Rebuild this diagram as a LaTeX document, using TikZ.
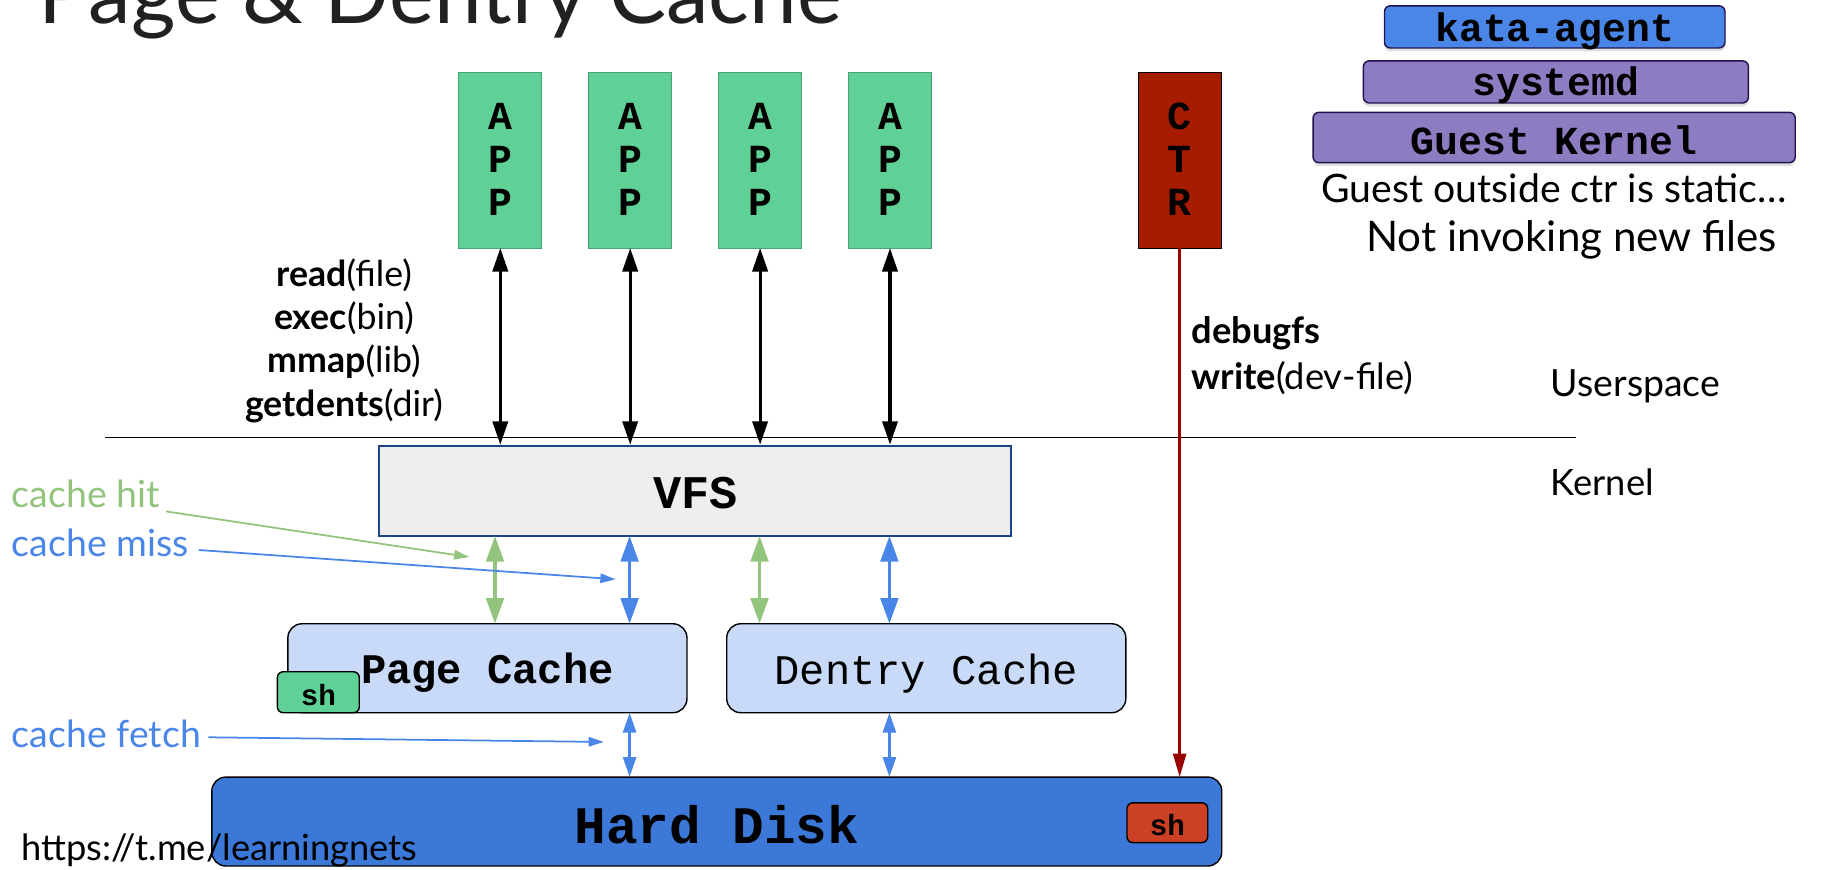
\documentclass[tikz,border=0pt]{standalone}
\usepackage{fontspec}
\setmainfont{Lato}
\setmonofont{Liberation Mono}
\usetikzlibrary{arrows.meta,shadows}
\definecolor{appgreen}{HTML}{5FD196}
\definecolor{appborder}{HTML}{46A472}
\definecolor{ctrred}{HTML}{A61C00}
\definecolor{katablue}{HTML}{4A86E8}
\definecolor{navy}{HTML}{20124D}
\definecolor{purp}{HTML}{8E7CC3}
\definecolor{vfsfill}{HTML}{EEEEEE}
\definecolor{vfsborder}{HTML}{1C4587}
\definecolor{cachefill}{HTML}{C9DAF8}
\definecolor{diskblue}{HTML}{3C78D8}
\definecolor{shred}{HTML}{CC4125}
\definecolor{hitgreen}{HTML}{93C47D}
\definecolor{missblue}{HTML}{4A86E8}
\definecolor{darkred}{HTML}{990000}
\definecolor{titlegray}{HTML}{212121}
\newcommand{\lowered}[2]{\raisebox{-#1}[\height][\depth]{#2}}
\newcommand{\vstack}[3]{\lowered{3pt}{\begin{tabular}{@{}c@{}}#1\\#2\\#3\end{tabular}}}
\tikzset{
  fsz/.style={font=\fontsize{#1}{#1}\selectfont},
  box/.style={inner sep=0pt, outer sep=0pt, align=center},
  appbox/.style={box, draw=appborder, line width=1pt, fill=appgreen,
    minimum width=71pt, minimum height=150pt,
    font=\fontsize{34}{37}\selectfont\ttfamily\bfseries},
  stackbox/.style={box, draw=navy, line width=1.2pt, rounded corners=5pt,
    minimum height=36pt, font=\fontsize{34}{34}\selectfont\ttfamily\bfseries,
    drop shadow={opacity=0.25, shadow xshift=0pt, shadow yshift=-3pt}},
  cachebox/.style={box, draw=black, line width=1.2pt, fill=cachefill, rounded corners=12pt,
    minimum width=341pt, minimum height=76pt},
  shbox/.style={box, draw=black, line width=1.2pt, rounded corners=5pt,
    font=\fontsize{25}{25}\selectfont\ttfamily\bfseries},
  syscall/.style={{Triangle[width=13pt,length=20pt]}-{Triangle[width=13pt,length=20pt]}, line width=2.6pt, black},
  hitarrow/.style={{Triangle[width=15pt,length=22pt]}-{Triangle[width=15pt,length=22pt]}, line width=3pt, hitgreen},
  missarrow/.style={{Triangle[width=15pt,length=22pt]}-{Triangle[width=15pt,length=22pt]}, line width=3pt, missblue},
  fetcharrow/.style={{Triangle[width=11pt,length=17pt]}-{Triangle[width=11pt,length=17pt]}, line width=2.5pt, missblue},
  pointer/.style={-{Triangle[width=8pt,length=13pt]}, line width=1.5pt},
  label/.style={inner sep=0pt, fsz=32}
}
\begin{document}
\begin{tikzpicture}[x=1pt,y=-1pt]
\useasboundingbox (0,0) rectangle (1568,743);

% title
\node[anchor=base west, inner sep=0pt, text=titlegray, fsz=73] (title) at (33,20) {Page \& Dentry Cache};

% apps
\node[appbox] (app1) at (427.5,137) {\vstack{A}{P}{P}};
\node[appbox] (app2) at (538.5,137) {\vstack{A}{P}{P}};
\node[appbox] (app3) at (649.5,137) {\vstack{A}{P}{P}};
\node[appbox] (app4) at (760.5,137) {\vstack{A}{P}{P}};
\node[appbox, draw=black, fill=ctrred] (ctr) at (1008,137) {\vstack{C}{T}{R}};

% top-right stack
\node[stackbox, fill=katablue, minimum width=291pt] (kata) at (1328.5,23) {\lowered{4pt}{kata-agent}};
\node[stackbox, fill=purp, minimum width=329pt] (systemd) at (1329.5,70) {\lowered{3pt}{systemd}};
\node[stackbox, fill=purp, minimum width=412pt, minimum height=43pt] (gk) at (1328,117.5) {\lowered{2pt}{Guest Kernel}};
\node[label, fsz=33.5] (static) at (1328,161) {Guest outside ctr is static…};
\node[label, fsz=36] (notinv) at (1343,205) {Not invoking new files};

% kernel / user line
\coordinate (lineL) at (90,374);
\coordinate (lineR) at (1347,374);
\draw[line width=1.3pt] (lineL) -- (lineR);

% syscall arrows
\foreach \n in {1,2,3,4} {
  \coordinate (e\n) at ([yshift=-6pt]app\n.south |- lineL);
  \draw[syscall] (app\n.south) -- (e\n);
}

\node[label, align=center, font=\fontsize{30.5}{37}\selectfont] (calls) at (294,291)
  {\textbf{read}(file)\\\textbf{exec}(bin)\\\textbf{mmap}(lib)\\\textbf{getdents}(dir)};

\node[label, anchor=west, align=left, font=\fontsize{31}{39}\selectfont] (dbg) at (1018,304)
  {\textbf{debugfs}\\\textbf{write}(dev-file)};

\node[label, anchor=west, fsz=32] (user) at (1325,330) {Userspace};
\node[label, anchor=west, fsz=31] (kern) at (1325,412) {Kernel};

% VFS
\node[box, draw=vfsborder, line width=1.2pt, fill=vfsfill, minimum width=540pt, minimum height=77pt,
  font=\fontsize{40}{40}\selectfont\ttfamily\bfseries] (vfs) at (594,419.5) {\lowered{2pt}{VFS}};

% caches
\node[cachebox, font=\fontsize{36}{36}\selectfont\ttfamily\bfseries] (pc) at (416.5,571) {\lowered{4pt}{Page Cache}};
\node[cachebox, font=\fontsize{36}{36}\selectfont\ttfamily] (dc) at (791.5,571) {\lowered{5pt}{Dentry Cache}};
\node[shbox, fill=appgreen, minimum width=70pt, minimum height=35pt] (sh1) at (272,591.5) {\lowered{2pt}{sh}};

% disk
\node[box, draw=black, line width=1.2pt, fill=diskblue, rounded corners=12pt,
  minimum width=863pt, minimum height=76pt, font=\fontsize{45}{45}\selectfont\ttfamily\bfseries] (disk) at (612.5,702) {\lowered{3pt}{Hard Disk}};
\node[shbox, fill=shred, minimum width=69pt, minimum height=34pt] (sh2) at (997.5,703) {\lowered{2pt}{sh}};

% vfs <-> caches
\coordinate (c1) at (423,0);
\coordinate (c2) at (538,0);
\coordinate (c3) at (649,0);
\coordinate (c4) at (760,0);
\draw[hitarrow] (vfs.south -| c1) -- (pc.north -| c1);
\draw[missarrow] (vfs.south -| c2) -- (pc.north -| c2);
\draw[hitarrow] (vfs.south -| c3) -- (dc.north -| c3);
\draw[missarrow] (vfs.south -| c4) -- (dc.north -| c4);

% caches <-> disk
\draw[fetcharrow] (pc.south -| c2) -- (disk.north -| c2);
\draw[fetcharrow] (dc.south -| c4) -- (disk.north -| c4);

% ctr -> disk
\draw[darkred, line width=2.5pt, -{Triangle[width=11pt,length=20pt]}] (ctr.south) -- (disk.north -| ctr.south);

% cache labels
\node[label, anchor=west, text=hitgreen] (hit) at (10,422) {cache hit};
\node[label, anchor=west, text=missblue] (miss) at (10,464) {cache miss};
\node[label, anchor=west, text=missblue] (fetch) at (10,627) {cache fetch};
\coordinate (hitS) at (142,437);
\coordinate (hitE) at (401,476);
\coordinate (missS) at (170,470);
\coordinate (missE) at (526,495);
\coordinate (fetchS) at (178,630);
\coordinate (fetchE) at (516,634);
\draw[pointer, hitgreen] (hitS) -- (hitE);
\draw[pointer, missblue] (missS) -- (missE);
\draw[pointer, missblue] (fetchS) -- (fetchE);

% watermark
\node[label, anchor=west, fsz=31] (url) at (18,727) {https://t.me/learningnets};
\end{tikzpicture}
\end{document}
